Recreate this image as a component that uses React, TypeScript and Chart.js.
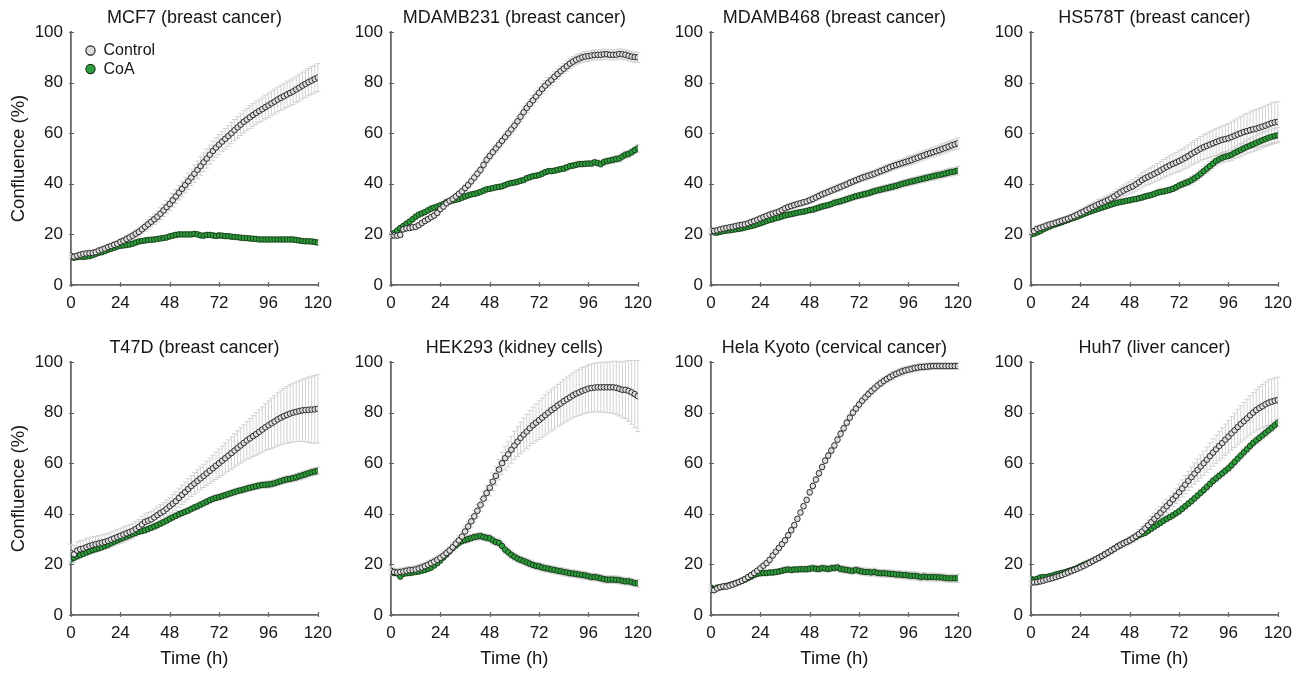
import React, { useEffect, useRef } from "react";
import { Chart, registerables } from "chart.js";
Chart.register(...registerables);

const TIME_H = [
  0, 1.5, 3, 4.5, 6, 7.5, 9, 10.5,
  12, 13.5, 15, 16.5, 18, 19.5, 21, 22.5,
  24, 25.5, 27, 28.5, 30, 31.5, 33, 34.5,
  36, 37.5, 39, 40.5, 42, 43.5, 45, 46.5,
  48, 49.5, 51, 52.5, 54, 55.5, 57, 58.5,
  60, 61.5, 63, 64.5, 66, 67.5, 69, 70.5,
  72, 73.5, 75, 76.5, 78, 79.5, 81, 82.5,
  84, 85.5, 87, 88.5, 90, 91.5, 93, 94.5,
  96, 97.5, 99, 100.5, 102, 103.5, 105, 106.5,
  108, 109.5, 111, 112.5, 114, 115.5, 117, 118.5,
  120,
];
const X_TICKS = [0, 24, 48, 72, 96, 120];
const Y_TICKS = [0, 20, 40, 60, 80, 100];
const SERIES_NAMES = ["Control", "CoA"];
const PANEL_TITLES = [
  "MCF7 (breast cancer)",
  "MDAMB231 (breast cancer)",
  "MDAMB468 (breast cancer)",
  "HS578T (breast cancer)",
  "T47D (breast cancer)",
  "HEK293 (kidney cells)",
  "Hela Kyoto (cervical cancer)",
  "Huh7 (liver cancer)",
];

// ---------- MCF7 ----------
const MCF7_CTRL = [
  11.5, 11.2, 11.6, 12.0, 12.3, 12.5, 12.6, 12.7,
  13.0, 13.6, 14.0, 14.4, 15.0, 15.4, 15.9, 16.3,
  17.0, 17.5, 18.2, 18.8, 19.5, 20.3, 21.0, 22.0,
  23.0, 24.0, 25.0, 26.0, 27.0, 28.2, 29.5, 30.8,
  32.0, 33.5, 35.0, 36.5, 38.0, 39.5, 41.0, 42.5,
  44.0, 45.5, 47.0, 48.5, 50.0, 51.5, 53.0, 54.3,
  55.5, 56.7, 57.8, 58.9, 60.0, 61.2, 62.3, 63.4,
  64.5, 65.4, 66.3, 67.2, 68.0, 68.8, 69.5, 70.3,
  71.0, 71.8, 72.5, 73.3, 74.0, 74.6, 75.3, 75.9,
  76.5, 77.3, 78.0, 78.8, 79.5, 80.2, 80.8, 81.4,
  82.0,
];
const MCF7_COA = [
  11.0, 10.8, 11.0, 11.2, 11.1, 11.3, 11.4, 11.8,
  12.3, 12.7, 13.0, 13.4, 13.9, 14.3, 14.7, 15.2,
  15.5, 15.6, 15.8, 16.0, 16.3, 16.8, 17.2, 17.4,
  17.6, 17.8, 17.9, 18.0, 18.2, 18.4, 18.6, 18.8,
  19.2, 19.5, 19.8, 20.0, 20.0, 20.0, 20.0, 20.0,
  20.2, 20.0, 19.6, 19.5, 19.8, 19.8, 19.6, 19.4,
  19.6, 19.5, 19.3, 19.3, 19.1, 19.0, 18.9, 18.7,
  18.6, 18.5, 18.4, 18.3, 18.2, 18.0, 18.0, 18.0,
  18.0, 18.0, 18.0, 18.0, 18.0, 18.0, 18.0, 18.0,
  18.0, 17.8, 17.6, 17.4, 17.3, 17.3, 17.2, 17.0,
  16.8,
];
const MCF7_CTRL_SD = [
  0.8, 0.8, 0.8, 0.8, 0.8, 0.9, 0.9, 0.9,
  1.0, 1.0, 1.0, 1.1, 1.1, 1.1, 1.2, 1.2,
  1.2, 1.3, 1.3, 1.4, 1.4, 1.5, 1.6, 1.7,
  1.8, 1.9, 2.0, 2.1, 2.2, 2.3, 2.4, 2.5,
  2.6, 2.7, 2.8, 2.9, 3.0, 3.1, 3.2, 3.3,
  3.4, 3.5, 3.6, 3.7, 3.8, 3.8, 3.9, 3.9,
  4.0, 4.0, 4.1, 4.1, 4.2, 4.2, 4.3, 4.3,
  4.4, 4.4, 4.5, 4.5, 4.6, 4.6, 4.7, 4.7,
  4.8, 4.8, 4.9, 4.9, 5.0, 5.0, 5.1, 5.1,
  5.2, 5.2, 5.3, 5.3, 5.4, 5.4, 5.5, 5.5,
  5.5,
];
const MCF7_COA_SD = [
  0.6, 0.6, 0.6, 0.6, 0.6, 0.6, 0.6, 0.6,
  0.6, 0.6, 0.6, 0.6, 0.6, 0.6, 0.6, 0.6,
  0.6, 0.6, 0.6, 0.6, 0.6, 0.6, 0.6, 0.6,
  0.7, 0.7, 0.7, 0.7, 0.7, 0.7, 0.7, 0.7,
  0.7, 0.7, 0.7, 0.7, 0.7, 0.7, 0.7, 0.7,
  0.8, 0.8, 0.8, 0.8, 0.8, 0.8, 0.8, 0.8,
  0.8, 0.8, 0.8, 0.8, 0.8, 0.8, 0.8, 0.8,
  0.8, 0.8, 0.8, 0.8, 0.8, 0.8, 0.8, 0.8,
  0.9, 0.9, 0.9, 0.9, 0.9, 0.9, 0.9, 0.9,
  1.0, 1.0, 1.0, 1.0, 1.0, 1.0, 1.0, 1.0,
  1.0,
];

// ---------- MDAMB231 ----------
const MDAMB231_CTRL = [
  19.5, 19.6, 19.5, 19.8, 22.0, 22.4, 22.5, 22.8,
  23.0, 23.6, 24.5, 25.3, 26.0, 26.8, 27.5, 28.5,
  30.0, 31.0, 32.3, 33.3, 34.0, 35.0, 36.0, 37.0,
  38.3, 39.5, 41.0, 42.5, 44.0, 45.5, 47.5, 49.5,
  51.0, 52.5, 54.0, 55.5, 57.0, 58.5, 60.0, 61.5,
  63.0, 64.7, 66.5, 68.3, 70.0, 71.5, 73.0, 74.5,
  76.0, 77.5, 78.8, 80.0, 81.0, 82.3, 83.4, 84.5,
  85.5, 86.5, 87.5, 88.3, 89.0, 89.5, 90.0, 90.3,
  90.5, 90.7, 90.9, 91.0, 91.0, 91.2, 91.2, 91.0,
  91.0, 91.0, 91.3, 91.2, 91.0, 90.6, 90.3, 90.1,
  90.0,
];
const MDAMB231_COA = [
  20.0, 20.5, 21.5, 22.5, 23.3, 24.2, 25.0, 26.0,
  27.0, 27.8, 28.3, 28.8, 29.5, 30.2, 30.6, 31.0,
  31.5, 32.0, 32.8, 33.0, 33.4, 33.7, 34.0, 34.5,
  35.0, 35.4, 35.8, 36.0, 36.3, 36.8, 37.3, 37.8,
  38.0, 38.3, 38.6, 38.8, 39.0, 39.5, 40.0, 40.3,
  40.5, 40.8, 41.2, 41.5, 42.2, 42.6, 43.0, 43.2,
  43.5, 44.0, 44.6, 45.0, 45.0, 45.2, 45.5, 45.8,
  46.0, 46.5, 47.0, 47.2, 47.5, 47.8, 47.8, 47.9,
  48.0, 48.0, 48.5, 48.2, 47.8, 48.6, 49.0, 49.2,
  49.5, 49.8, 50.0, 50.8, 51.5, 51.8, 52.5, 53.3,
  54.0,
];
const MDAMB231_CTRL_SD = [
  0.8, 0.8, 0.8, 0.8, 0.8, 0.8, 0.8, 0.8,
  0.9, 0.9, 0.9, 0.9, 1.0, 1.0, 1.0, 1.0,
  1.0, 1.1, 1.1, 1.1, 1.2, 1.2, 1.2, 1.2,
  1.3, 1.3, 1.3, 1.4, 1.4, 1.4, 1.5, 1.5,
  1.5, 1.5, 1.6, 1.6, 1.6, 1.6, 1.7, 1.7,
  1.7, 1.7, 1.8, 1.8, 1.8, 1.8, 1.9, 1.9,
  1.9, 1.9, 2.0, 2.0, 2.0, 2.0, 2.0, 2.0,
  2.0, 2.0, 2.0, 2.0, 2.0, 2.0, 2.0, 2.0,
  2.0, 2.0, 2.0, 2.0, 2.0, 2.0, 2.0, 2.0,
  2.0, 2.0, 2.0, 2.0, 2.0, 2.0, 2.0, 2.0,
  2.0,
];
const MDAMB231_COA_SD = [
  0.8, 0.8, 0.8, 0.8, 0.8, 0.8, 0.8, 0.8,
  0.8, 0.8, 0.8, 0.8, 0.8, 0.8, 0.8, 0.8,
  0.8, 0.8, 0.8, 0.8, 0.8, 0.8, 0.8, 0.8,
  0.9, 0.9, 0.9, 0.9, 0.9, 0.9, 0.9, 0.9,
  0.9, 0.9, 0.9, 0.9, 0.9, 0.9, 0.9, 0.9,
  1.0, 1.0, 1.0, 1.0, 1.0, 1.0, 1.0, 1.0,
  1.0, 1.0, 1.0, 1.0, 1.0, 1.0, 1.0, 1.0,
  1.1, 1.1, 1.1, 1.1, 1.1, 1.1, 1.1, 1.1,
  1.2, 1.2, 1.2, 1.2, 1.2, 1.2, 1.2, 1.2,
  1.4, 1.4, 1.4, 1.4, 1.4, 1.4, 1.4, 1.4,
  1.5,
];

// ---------- MDAMB468 ----------
const MDAMB468_CTRL = [
  21.5, 21.4, 21.6, 22.0, 22.3, 22.5, 22.8, 23.0,
  23.3, 23.6, 23.8, 24.0, 24.4, 24.9, 25.3, 25.8,
  26.3, 26.8, 27.3, 27.8, 28.2, 28.6, 29.0, 29.6,
  30.3, 30.8, 31.2, 31.6, 32.0, 32.3, 32.7, 33.0,
  33.5, 34.0, 34.6, 35.2, 35.8, 36.3, 36.8, 37.3,
  37.8, 38.3, 38.8, 39.3, 39.8, 40.4, 40.9, 41.4,
  41.9, 42.4, 42.8, 43.2, 43.6, 44.0, 44.5, 45.0,
  45.5, 46.0, 46.5, 47.0, 47.4, 47.8, 48.2, 48.6,
  49.0, 49.4, 49.9, 50.3, 50.8, 51.2, 51.7, 52.1,
  52.5, 52.9, 53.3, 53.8, 54.2, 54.7, 55.2, 55.6,
  56.0,
];
const MDAMB468_COA = [
  21.0, 20.8, 20.7, 21.0, 21.3, 21.5, 21.6, 21.8,
  22.0, 22.2, 22.4, 22.7, 23.0, 23.3, 23.6, 24.0,
  24.4, 24.8, 25.3, 25.7, 26.0, 26.4, 26.7, 27.1,
  27.5, 27.8, 28.0, 28.3, 28.6, 28.8, 29.0, 29.3,
  29.6, 29.8, 30.2, 30.6, 31.0, 31.3, 31.6, 32.0,
  32.5, 32.8, 33.1, 33.5, 33.9, 34.3, 34.7, 35.1,
  35.4, 35.7, 36.0, 36.3, 36.7, 37.1, 37.4, 37.7,
  38.0, 38.3, 38.6, 38.9, 39.2, 39.6, 40.0, 40.3,
  40.6, 40.9, 41.2, 41.5, 41.8, 42.1, 42.4, 42.7,
  43.0, 43.3, 43.5, 43.8, 44.1, 44.4, 44.7, 44.9,
  45.2,
];
const MDAMB468_CTRL_SD = [
  0.8, 0.8, 0.8, 0.8, 0.8, 0.8, 0.8, 0.8,
  0.9, 0.9, 0.9, 0.9, 0.9, 0.9, 0.9, 0.9,
  1.0, 1.0, 1.0, 1.0, 1.0, 1.0, 1.0, 1.0,
  1.1, 1.1, 1.1, 1.1, 1.1, 1.1, 1.1, 1.1,
  1.2, 1.2, 1.2, 1.2, 1.2, 1.2, 1.2, 1.2,
  1.3, 1.3, 1.3, 1.3, 1.3, 1.3, 1.3, 1.3,
  1.4, 1.4, 1.4, 1.4, 1.4, 1.4, 1.4, 1.4,
  1.6, 1.6, 1.6, 1.6, 1.6, 1.6, 1.6, 1.6,
  1.8, 1.8, 1.8, 1.8, 1.8, 1.8, 1.8, 1.8,
  2.0, 2.0, 2.0, 2.0, 2.0, 2.0, 2.0, 2.0,
  2.2,
];
const MDAMB468_COA_SD = [
  0.8, 0.8, 0.8, 0.8, 0.8, 0.8, 0.8, 0.8,
  0.8, 0.8, 0.8, 0.8, 0.8, 0.8, 0.8, 0.8,
  0.9, 0.9, 0.9, 0.9, 0.9, 0.9, 0.9, 0.9,
  1.0, 1.0, 1.0, 1.0, 1.0, 1.0, 1.0, 1.0,
  1.1, 1.1, 1.1, 1.1, 1.1, 1.1, 1.1, 1.1,
  1.2, 1.2, 1.2, 1.2, 1.2, 1.2, 1.2, 1.2,
  1.3, 1.3, 1.3, 1.3, 1.3, 1.3, 1.3, 1.3,
  1.4, 1.4, 1.4, 1.4, 1.4, 1.4, 1.4, 1.4,
  1.5, 1.5, 1.5, 1.5, 1.5, 1.5, 1.5, 1.5,
  1.6, 1.6, 1.6, 1.6, 1.6, 1.6, 1.6, 1.6,
  1.7,
];

// ---------- HS578T ----------
const HS578T_CTRL = [
  21.0, 21.3, 22.2, 22.6, 23.0, 23.5, 23.9, 24.2,
  24.6, 25.0, 25.4, 25.8, 26.2, 26.7, 27.2, 27.8,
  28.4, 29.0, 29.6, 30.2, 30.8, 31.4, 32.0, 32.5,
  33.0, 33.6, 34.2, 35.0, 35.8, 36.6, 37.3, 37.9,
  38.5, 39.0, 39.8, 40.6, 41.5, 42.2, 42.8, 43.4,
  44.0, 44.6, 45.3, 46.0, 46.7, 47.3, 47.9, 48.4,
  49.0, 49.6, 50.3, 51.0, 51.8, 52.5, 53.2, 53.9,
  54.5, 55.0, 55.5, 56.0, 56.5, 57.0, 57.4, 57.7,
  58.0, 58.5, 59.0, 59.5, 60.0, 60.5, 60.8, 61.2,
  61.5, 61.8, 62.2, 62.6, 63.0, 63.5, 64.0, 64.3,
  64.5,
];
const HS578T_COA = [
  20.0, 20.3, 20.8, 21.3, 22.0, 22.6, 23.1, 23.6,
  24.0, 24.4, 24.8, 25.3, 25.7, 26.2, 26.6, 27.0,
  27.5, 28.0, 28.5, 29.0, 29.4, 29.8, 30.2, 30.6,
  31.0, 31.4, 31.8, 32.2, 32.5, 32.8, 33.0, 33.3,
  33.5, 33.8, 34.0, 34.3, 34.6, 35.0, 35.3, 35.6,
  36.0, 36.5, 36.8, 37.0, 37.3, 37.6, 38.0, 38.6,
  39.3, 39.8, 40.3, 40.8, 41.4, 42.2, 43.0, 44.0,
  45.0, 46.0, 47.0, 48.0, 49.0, 49.7, 50.3, 50.7,
  51.0, 51.5, 52.2, 52.8, 53.4, 54.0, 54.6, 55.1,
  55.6, 56.2, 56.7, 57.2, 57.7, 58.2, 58.6, 58.9,
  59.2,
];
const HS578T_CTRL_SD = [
  1.0, 1.0, 1.0, 1.0, 1.1, 1.1, 1.1, 1.1,
  1.2, 1.2, 1.2, 1.3, 1.3, 1.3, 1.4, 1.4,
  1.5, 1.5, 1.6, 1.6, 1.7, 1.7, 1.8, 1.8,
  1.9, 1.9, 2.0, 2.0, 2.1, 2.2, 2.3, 2.4,
  2.5, 2.6, 2.7, 2.8, 2.9, 3.0, 3.1, 3.2,
  3.3, 3.4, 3.5, 3.6, 3.7, 3.8, 3.9, 4.0,
  4.1, 4.2, 4.3, 4.4, 4.5, 4.6, 4.7, 4.8,
  4.9, 5.0, 5.1, 5.2, 5.3, 5.4, 5.5, 5.6,
  5.8, 6.0, 6.2, 6.4, 6.6, 6.8, 7.0, 7.2,
  7.4, 7.5, 7.6, 7.7, 7.8, 7.9, 8.0, 8.0,
  8.0,
];
const HS578T_COA_SD = [
  0.8, 0.8, 0.8, 0.8, 0.8, 0.8, 0.8, 0.8,
  0.8, 0.8, 0.8, 0.8, 0.8, 0.8, 0.8, 0.8,
  0.9, 0.9, 0.9, 0.9, 0.9, 0.9, 0.9, 0.9,
  0.9, 0.9, 0.9, 0.9, 0.9, 0.9, 0.9, 0.9,
  1.0, 1.0, 1.0, 1.0, 1.0, 1.0, 1.0, 1.0,
  1.1, 1.1, 1.1, 1.1, 1.1, 1.1, 1.1, 1.1,
  1.3, 1.3, 1.4, 1.4, 1.5, 1.5, 1.6, 1.6,
  1.7, 1.7, 1.8, 1.8, 1.9, 1.9, 2.0, 2.0,
  2.1, 2.2, 2.3, 2.4, 2.5, 2.6, 2.7, 2.8,
  2.9, 3.0, 3.0, 3.0, 3.0, 3.0, 3.0, 3.0,
  3.0,
];

// ---------- T47D ----------
const T47D_CTRL = [
  24.5, 24.0, 25.5, 26.0, 26.3, 26.8, 27.3, 27.7,
  28.0, 28.3, 28.6, 28.9, 29.3, 29.8, 30.3, 30.8,
  31.3, 31.8, 32.3, 32.8, 33.3, 34.0, 34.8, 35.8,
  36.8, 37.3, 37.8, 38.6, 39.5, 40.3, 41.0, 42.0,
  43.0, 44.0, 45.0, 46.3, 47.5, 48.6, 49.8, 51.0,
  52.0, 53.0, 54.0, 55.0, 56.0, 57.0, 58.0, 59.0,
  60.0, 61.0, 62.0, 63.0, 64.0, 65.0, 66.0, 67.0,
  68.0, 69.0, 69.8, 70.7, 71.5, 72.4, 73.3, 74.2,
  75.0, 75.8, 76.5, 77.3, 78.0, 78.6, 79.1, 79.6,
  80.0, 80.3, 80.6, 80.9, 81.0, 81.1, 81.2, 81.3,
  81.5,
];
const T47D_COA = [
  22.0, 22.6, 23.2, 23.7, 24.2, 24.7, 25.2, 25.6,
  26.0, 26.4, 26.8, 27.3, 27.8, 28.4, 29.0, 29.5,
  30.0, 30.5, 31.0, 31.5, 32.0, 32.5, 32.9, 33.2,
  33.5, 34.0, 34.5, 35.0, 35.5, 36.1, 36.7, 37.3,
  38.0, 38.6, 39.2, 39.8, 40.3, 40.8, 41.3, 41.9,
  42.5, 43.0, 43.6, 44.2, 44.8, 45.4, 45.9, 46.3,
  46.6, 47.0, 47.4, 47.8, 48.2, 48.6, 49.0, 49.3,
  49.6, 50.0, 50.3, 50.6, 50.9, 51.2, 51.4, 51.5,
  51.6, 51.8, 52.1, 52.5, 52.9, 53.3, 53.6, 53.8,
  54.1, 54.4, 54.8, 55.2, 55.6, 56.0, 56.4, 56.7,
  57.0,
];
const T47D_CTRL_SD = [
  3.5, 3.5, 3.4, 3.4, 3.3, 3.3, 3.2, 3.2,
  3.1, 3.1, 3.0, 3.0, 3.0, 3.0, 3.0, 3.0,
  3.0, 3.0, 3.0, 3.0, 3.0, 3.0, 3.0, 3.1,
  3.1, 3.2, 3.2, 3.3, 3.3, 3.4, 3.4, 3.5,
  3.5, 3.6, 3.7, 3.8, 3.9, 4.0, 4.1, 4.2,
  4.3, 4.4, 4.5, 4.6, 4.8, 5.0, 5.2, 5.4,
  5.6, 5.8, 6.0, 6.2, 6.4, 6.6, 6.8, 7.0,
  7.2, 7.5, 7.8, 8.1, 8.4, 8.7, 9.0, 9.3,
  9.6, 9.9, 10.2, 10.5, 10.8, 11.0, 11.2, 11.4,
  11.6, 11.8, 12.0, 12.3, 12.6, 12.9, 13.2, 13.4,
  13.5,
];
const T47D_COA_SD = [
  1.0, 1.0, 1.0, 1.0, 1.0, 1.0, 1.0, 1.0,
  1.0, 1.0, 1.0, 1.0, 1.0, 1.0, 1.0, 1.0,
  1.0, 1.0, 1.0, 1.0, 1.0, 1.0, 1.0, 1.0,
  1.1, 1.1, 1.1, 1.1, 1.1, 1.1, 1.1, 1.1,
  1.1, 1.1, 1.1, 1.1, 1.1, 1.1, 1.1, 1.1,
  1.2, 1.2, 1.2, 1.2, 1.2, 1.2, 1.2, 1.2,
  1.2, 1.2, 1.2, 1.2, 1.2, 1.2, 1.2, 1.2,
  1.3, 1.3, 1.3, 1.3, 1.3, 1.3, 1.3, 1.3,
  1.4, 1.4, 1.4, 1.4, 1.4, 1.4, 1.4, 1.4,
  1.5, 1.5, 1.5, 1.5, 1.5, 1.5, 1.5, 1.5,
  1.5,
];

// ---------- HEK293 ----------
const HEK293_CTRL = [
  17.5, 17.0, 16.8, 17.0, 17.2, 17.5, 17.7, 17.8,
  18.0, 18.4, 18.8, 19.3, 19.9, 20.5, 21.1, 21.8,
  22.6, 23.5, 24.5, 25.5, 26.8, 28.2, 29.5, 31.0,
  33.0, 35.0, 37.0, 39.0, 41.2, 43.5, 46.0, 48.2,
  50.3, 52.7, 55.0, 57.5, 60.0, 62.0, 63.5, 65.3,
  67.0, 68.5, 70.0, 71.3, 72.5, 73.8, 75.0, 76.0,
  77.0, 78.0, 79.0, 80.0, 81.0, 81.8, 82.8, 83.6,
  84.5, 85.3, 86.0, 86.8, 87.5, 88.0, 88.6, 89.0,
  89.5, 89.7, 89.9, 90.0, 90.0, 90.0, 90.0, 90.0,
  90.0, 89.8, 89.4, 89.0, 89.0, 88.6, 88.0, 87.3,
  86.5,
];
const HEK293_COA = [
  17.0, 16.6, 16.5, 15.2, 16.3, 16.5, 16.6, 16.8,
  17.0, 17.2, 17.5, 17.8, 18.3, 18.8, 19.6, 20.5,
  21.6, 22.8, 24.0, 25.3, 26.5, 27.5, 28.5, 29.2,
  29.6, 30.0, 30.4, 30.8, 31.0, 31.2, 30.8, 30.5,
  30.3, 29.5, 28.8, 28.5, 27.3, 25.8, 24.8, 23.8,
  23.0, 22.3, 21.8, 21.3, 20.8, 20.3, 19.8, 19.4,
  19.2, 18.8, 18.5, 18.3, 18.0, 17.8, 17.5, 17.3,
  17.0, 16.8, 16.5, 16.4, 16.2, 16.0, 15.8, 15.6,
  15.3, 15.0, 15.0, 14.8, 14.5, 14.2, 14.0, 14.0,
  14.0, 13.9, 13.8, 13.5, 13.3, 13.3, 13.0, 12.6,
  12.5,
];
const HEK293_CTRL_SD = [
  1.5, 1.5, 1.5, 1.5, 1.5, 1.5, 1.5, 1.5,
  1.5, 1.5, 1.5, 1.5, 1.5, 1.5, 1.5, 1.5,
  1.5, 1.5, 1.6, 1.6, 1.7, 1.7, 1.8, 1.8,
  2.0, 2.0, 2.2, 2.3, 2.5, 2.6, 2.8, 3.0,
  3.2, 3.5, 3.8, 4.1, 4.4, 4.7, 5.0, 5.3,
  5.6, 5.9, 6.2, 6.5, 6.8, 7.0, 7.2, 7.4,
  7.6, 7.8, 8.0, 8.1, 8.2, 8.3, 8.4, 8.5,
  8.6, 8.7, 8.8, 8.9, 9.0, 9.1, 9.2, 9.3,
  9.4, 9.5, 9.6, 9.7, 9.8, 9.9, 10.0, 10.1,
  10.3, 10.5, 10.7, 11.0, 11.4, 12.0, 12.6, 13.3,
  14.0,
];
const HEK293_COA_SD = [
  1.0, 1.0, 1.0, 1.0, 1.0, 1.0, 1.0, 1.0,
  1.0, 1.0, 1.0, 1.0, 1.0, 1.0, 1.0, 1.0,
  1.2, 1.2, 1.2, 1.2, 1.2, 1.2, 1.2, 1.2,
  1.4, 1.4, 1.4, 1.4, 1.4, 1.4, 1.4, 1.4,
  1.5, 1.5, 1.5, 1.5, 1.5, 1.5, 1.5, 1.5,
  1.5, 1.5, 1.5, 1.5, 1.5, 1.5, 1.5, 1.5,
  1.5, 1.5, 1.5, 1.5, 1.5, 1.5, 1.5, 1.5,
  1.5, 1.5, 1.5, 1.5, 1.5, 1.5, 1.5, 1.5,
  1.5, 1.5, 1.5, 1.5, 1.5, 1.5, 1.5, 1.5,
  1.5, 1.5, 1.5, 1.5, 1.5, 1.5, 1.5, 1.5,
  1.5,
];

// ---------- Hela Kyoto ----------
const HELA_CTRL = [
  10.0, 9.8, 10.5, 11.0, 11.3, 11.2, 11.6, 12.0,
  12.5, 13.0, 13.5, 14.2, 15.0, 15.8, 16.6, 17.5,
  18.5, 19.5, 20.5, 21.8, 23.5, 25.0, 26.5, 28.0,
  29.5, 31.5, 33.5, 35.5, 38.0, 40.5, 43.0, 45.5,
  48.5, 51.0, 53.5, 56.0, 58.5, 61.0, 63.0, 65.0,
  67.0, 69.3, 71.6, 73.8, 76.0, 78.0, 80.0, 81.6,
  83.2, 84.7, 86.0, 87.3, 88.5, 89.6, 90.7, 91.6,
  92.5, 93.3, 94.0, 94.7, 95.3, 95.8, 96.3, 96.7,
  97.0, 97.3, 97.6, 97.8, 98.0, 98.1, 98.2, 98.3,
  98.4, 98.4, 98.4, 98.4, 98.4, 98.4, 98.4, 98.4,
  98.4,
];
const HELA_COA = [
  10.8, 10.2, 10.8, 11.0, 11.2, 11.5, 11.8, 12.2,
  12.6, 13.0, 13.5, 14.0, 14.6, 15.2, 15.8, 16.3,
  16.5, 16.6, 16.6, 16.8, 16.8, 17.0, 17.2, 17.5,
  17.8, 18.0, 17.8, 18.0, 18.0, 18.1, 18.1, 18.1,
  18.3, 18.5, 18.3, 18.2, 18.5, 18.4, 18.2, 18.5,
  18.6, 18.8, 18.2, 18.0, 17.8, 17.6, 17.5, 17.8,
  17.5, 17.2, 17.0, 17.0, 16.8, 17.0, 16.6, 16.5,
  16.5, 16.4, 16.3, 16.2, 16.0, 16.0, 15.8, 15.8,
  15.6, 15.5, 15.5, 15.3, 15.0, 15.2, 15.0, 15.0,
  15.0, 14.9, 14.9, 14.8, 14.6, 14.5, 14.5, 14.5,
  14.5,
];
const HELA_CTRL_SD = [
  0.8, 0.8, 0.8, 0.8, 0.8, 0.8, 0.8, 0.8,
  0.8, 0.8, 0.8, 0.8, 0.8, 0.8, 0.8, 0.8,
  0.9, 0.9, 0.9, 0.9, 0.9, 0.9, 0.9, 0.9,
  1.0, 1.0, 1.0, 1.0, 1.0, 1.0, 1.0, 1.0,
  1.2, 1.2, 1.2, 1.2, 1.2, 1.2, 1.2, 1.2,
  1.3, 1.3, 1.3, 1.3, 1.3, 1.3, 1.3, 1.3,
  1.4, 1.4, 1.4, 1.4, 1.4, 1.4, 1.4, 1.4,
  1.5, 1.5, 1.5, 1.5, 1.5, 1.5, 1.5, 1.5,
  1.4, 1.4, 1.4, 1.4, 1.4, 1.4, 1.4, 1.4,
  1.2, 1.2, 1.2, 1.2, 1.2, 1.2, 1.2, 1.2,
  1.2,
];
const HELA_COA_SD = [
  1.0, 1.0, 1.0, 1.0, 1.0, 1.0, 1.0, 1.0,
  1.0, 1.0, 1.0, 1.0, 1.0, 1.0, 1.0, 1.0,
  1.1, 1.1, 1.1, 1.1, 1.1, 1.1, 1.1, 1.1,
  1.2, 1.2, 1.2, 1.2, 1.2, 1.2, 1.2, 1.2,
  1.3, 1.3, 1.3, 1.3, 1.3, 1.3, 1.3, 1.3,
  1.4, 1.4, 1.4, 1.4, 1.4, 1.4, 1.4, 1.4,
  1.5, 1.5, 1.5, 1.5, 1.5, 1.5, 1.5, 1.5,
  1.5, 1.5, 1.5, 1.5, 1.5, 1.5, 1.5, 1.5,
  1.6, 1.6, 1.6, 1.6, 1.6, 1.6, 1.6, 1.6,
  1.6, 1.6, 1.6, 1.6, 1.6, 1.6, 1.6, 1.6,
  1.6,
];

// ---------- Huh7 ----------
const HUH7_CTRL = [
  12.8, 12.9, 13.0, 13.3, 13.6, 14.0, 14.3, 14.6,
  15.0, 15.4, 15.8, 16.3, 16.8, 17.3, 17.8, 18.3,
  18.8, 19.4, 20.0, 20.6, 21.3, 22.0, 22.6, 23.3,
  24.0, 24.7, 25.5, 26.2, 27.0, 27.7, 28.3, 28.9,
  29.5, 30.3, 31.1, 32.0, 33.0, 34.2, 35.5, 36.7,
  38.0, 39.2, 40.4, 41.7, 43.0, 44.3, 45.7, 47.1,
  48.5, 50.0, 51.5, 53.0, 54.5, 55.9, 57.3, 58.7,
  60.0, 61.4, 62.8, 64.2, 65.5, 66.8, 68.0, 69.3,
  70.5, 71.8, 73.0, 74.3, 75.5, 76.6, 77.7, 78.9,
  80.0, 81.0, 81.8, 82.5, 83.3, 83.9, 84.3, 84.7,
  85.0,
];
const HUH7_COA = [
  14.2, 13.9, 14.3, 14.8, 15.0, 15.0, 15.3, 15.6,
  16.0, 16.3, 16.6, 16.9, 17.3, 17.7, 18.1, 18.6,
  19.2, 19.8, 20.3, 20.8, 21.4, 22.0, 22.6, 23.3,
  24.0, 24.7, 25.4, 26.2, 27.0, 27.6, 28.3, 28.9,
  29.5, 30.2, 30.9, 31.6, 32.0, 32.5, 33.3, 34.1,
  34.9, 35.7, 36.5, 37.3, 38.0, 38.7, 39.4, 40.2,
  41.0, 42.0, 43.0, 44.0, 45.0, 46.1, 47.2, 48.3,
  49.4, 50.6, 51.8, 53.0, 54.0, 55.0, 56.0, 57.0,
  58.0, 59.2, 60.5, 61.8, 63.0, 64.3, 65.5, 66.8,
  68.0, 69.0, 70.0, 71.0, 72.0, 73.0, 74.0, 75.0,
  76.0,
];
const HUH7_CTRL_SD = [
  1.0, 1.0, 1.0, 1.0, 1.0, 1.0, 1.0, 1.0,
  1.0, 1.0, 1.0, 1.0, 1.0, 1.0, 1.0, 1.0,
  1.0, 1.0, 1.0, 1.0, 1.0, 1.0, 1.0, 1.0,
  1.1, 1.1, 1.2, 1.2, 1.3, 1.3, 1.4, 1.4,
  1.5, 1.6, 1.7, 1.8, 1.9, 2.0, 2.1, 2.2,
  2.3, 2.4, 2.5, 2.6, 2.7, 2.8, 2.9, 3.0,
  3.2, 3.4, 3.6, 3.8, 4.0, 4.2, 4.4, 4.6,
  4.8, 5.0, 5.2, 5.4, 5.6, 5.8, 6.0, 6.2,
  6.4, 6.6, 6.8, 7.0, 7.2, 7.4, 7.6, 7.8,
  8.0, 8.2, 8.4, 8.6, 8.8, 9.0, 9.0, 9.0,
  9.0,
];
const HUH7_COA_SD = [
  1.0, 1.0, 1.0, 1.0, 1.0, 1.0, 1.0, 1.0,
  1.0, 1.0, 1.0, 1.0, 1.0, 1.0, 1.0, 1.0,
  1.0, 1.0, 1.0, 1.0, 1.0, 1.0, 1.0, 1.0,
  1.0, 1.0, 1.0, 1.0, 1.0, 1.0, 1.0, 1.0,
  1.1, 1.1, 1.1, 1.1, 1.1, 1.1, 1.1, 1.1,
  1.1, 1.1, 1.1, 1.1, 1.1, 1.1, 1.1, 1.1,
  1.2, 1.2, 1.2, 1.2, 1.2, 1.2, 1.2, 1.2,
  1.3, 1.3, 1.3, 1.3, 1.3, 1.3, 1.3, 1.3,
  1.4, 1.4, 1.4, 1.4, 1.4, 1.4, 1.4, 1.4,
  1.5, 1.5, 1.5, 1.5, 1.5, 1.5, 1.5, 1.5,
  1.5,
];

const PANEL_SERIES = [
  [MCF7_CTRL, MCF7_COA, MCF7_CTRL_SD, MCF7_COA_SD],
  [MDAMB231_CTRL, MDAMB231_COA, MDAMB231_CTRL_SD, MDAMB231_COA_SD],
  [MDAMB468_CTRL, MDAMB468_COA, MDAMB468_CTRL_SD, MDAMB468_COA_SD],
  [HS578T_CTRL, HS578T_COA, HS578T_CTRL_SD, HS578T_COA_SD],
  [T47D_CTRL, T47D_COA, T47D_CTRL_SD, T47D_COA_SD],
  [HEK293_CTRL, HEK293_COA, HEK293_CTRL_SD, HEK293_COA_SD],
  [HELA_CTRL, HELA_COA, HELA_CTRL_SD, HELA_COA_SD],
  [HUH7_CTRL, HUH7_COA, HUH7_CTRL_SD, HUH7_COA_SD],
];

const FONT = "'Liberation Sans', Arial, Helvetica, sans-serif";
const TEXT = "#161616";
const AXIS = "#666666";
const CTRL_FILL = "#dedede";
const CTRL_EDGE = "#1a1a1a";
const COA_FILL = "#2e9f3e";
const COA_EDGE = "#123312";
const ERR = "#d2d2d2";

const CANVAS_W = 340;
const CANVAS_H = 340;
const AREA_LEFT = 71;
const AREA_TOP = 32;
const AREA_W = 253;
const AREA_H = 253;

function Panel({ idx }: { idx: number }) {
  const ref = useRef<HTMLCanvasElement | null>(null);
  const col = idx % 4;
  const row = Math.floor(idx / 4);
  useEffect(() => {
    const [ctrl, coa, ctrlSd, coaSd] = PANEL_SERIES[idx];
    const title = PANEL_TITLES[idx];

    const errPlugin = {
      id: "errbars",
      beforeDatasetsDraw(chart: any) {
        const ctx = chart.ctx;
        const xs = chart.scales.x;
        const ys = chart.scales.y;
        ctx.save();
        ctx.lineWidth = 1;
        chart.data.datasets.forEach((ds: any) => {
          const errs: number[] = ds.errs;
          ctx.strokeStyle = ds.errColor;
          ds.data.forEach((pt: any, i: number) => {
            const x = xs.getPixelForValue(pt.x);
            const yT = ys.getPixelForValue(pt.y + errs[i]);
            const yB = ys.getPixelForValue(pt.y - errs[i]);
            ctx.beginPath();
            ctx.moveTo(x, yT);
            ctx.lineTo(x, yB);
            ctx.moveTo(x - 2.5, yT);
            ctx.lineTo(x + 2.5, yT);
            ctx.moveTo(x - 2.5, yB);
            ctx.lineTo(x + 2.5, yB);
            ctx.stroke();
          });
        });
        ctx.restore();
      },
    };

    const decorPlugin = {
      id: "decor",
      afterDraw(chart: any) {
        const ctx = chart.ctx;
        const a = chart.chartArea;
        const xs = chart.scales.x;
        const ys = chart.scales.y;
        ctx.save();
        // inward ticks
        ctx.strokeStyle = AXIS;
        ctx.lineWidth = 1.2;
        ctx.beginPath();
        Y_TICKS.forEach((v) => {
          const y = Math.round(ys.getPixelForValue(v)) + 0.5;
          ctx.moveTo(a.left - 2, y);
          ctx.lineTo(a.left + 3, y);
        });
        X_TICKS.forEach((v) => {
          const x = Math.round(xs.getPixelForValue(v)) + 0.5;
          ctx.moveTo(x, a.bottom + 2);
          ctx.lineTo(x, a.bottom - 3);
        });
        ctx.stroke();
        // title
        ctx.fillStyle = TEXT;
        ctx.font = `18px ${FONT}`;
        ctx.textAlign = "center";
        ctx.textBaseline = "middle";
        ctx.fillText(title, (a.left + a.right) / 2, a.top - 14);
        // legend in first panel
        if (idx === 0) {
          const items = [
            { name: SERIES_NAMES[0], fill: CTRL_FILL, edge: CTRL_EDGE },
            { name: SERIES_NAMES[1], fill: COA_FILL, edge: COA_EDGE },
          ];
          items.forEach((it, k) => {
            const cx = a.left + 19.5;
            const cy = a.top + 18.5 + k * 18.5;
            ctx.beginPath();
            ctx.arc(cx, cy, 4.6, 0, Math.PI * 2);
            ctx.fillStyle = it.fill;
            ctx.fill();
            ctx.lineWidth = 1.1;
            ctx.strokeStyle = it.edge;
            ctx.stroke();
            ctx.fillStyle = TEXT;
            ctx.font = `16px ${FONT}`;
            ctx.textAlign = "left";
            ctx.textBaseline = "middle";
            ctx.fillText(it.name, cx + 13, cy + 0.5);
          });
        }
        ctx.restore();
      },
    };

    const chart = new Chart(ref.current as HTMLCanvasElement, {
      type: "scatter",
      data: {
        datasets: [
          {
            label: SERIES_NAMES[0],
            data: TIME_H.map((t, i) => ({ x: t, y: ctrl[i] })),
            backgroundColor: CTRL_FILL,
            borderColor: CTRL_EDGE,
            pointRadius: 2.8,
            pointBorderWidth: 0.9,
            errs: ctrlSd,
            errColor: ERR,
          } as any,
          {
            label: SERIES_NAMES[1],
            data: TIME_H.map((t, i) => ({ x: t, y: coa[i] })),
            backgroundColor: COA_FILL,
            borderColor: COA_EDGE,
            pointRadius: 2.8,
            pointBorderWidth: 0.9,
            errs: coaSd,
            errColor: ERR,
          } as any,
        ],
      },
      options: {
        responsive: false,
        animation: false,
        devicePixelRatio: 1,
        layout: {
          padding: {
            top: AREA_TOP,
            right: CANVAS_W - AREA_LEFT - AREA_W,
            bottom: 0,
            left: 0,
          },
        },
        plugins: {
          legend: { display: false },
          tooltip: { enabled: false },
          title: { display: false },
        },
        scales: {
          x: {
            type: "linear",
            min: 0,
            max: 120,
            afterBuildTicks: (s: any) => {
              s.ticks = X_TICKS.map((v) => ({ value: v }));
            },
            ticks: {
              color: TEXT,
              font: { family: FONT, size: 17 },
              padding: 8,
              maxRotation: 0,
            },
            grid: { display: false, drawTicks: false },
            border: { display: true, color: AXIS, width: 1.8 },
            title: {
              display: row === 1,
              text: "Time (h)",
              color: TEXT,
              font: { family: FONT, size: 18.5 },
              padding: { top: 0, bottom: 0 },
            },
            afterFit: (s: any) => {
              s.height = CANVAS_H - AREA_TOP - AREA_H;
            },
          },
          y: {
            type: "linear",
            min: 0,
            max: 100,
            afterBuildTicks: (s: any) => {
              s.ticks = Y_TICKS.map((v) => ({ value: v }));
            },
            ticks: {
              color: TEXT,
              font: { family: FONT, size: 17 },
              padding: 8,
            },
            grid: { display: false, drawTicks: false },
            border: { display: true, color: AXIS, width: 1.8 },
            title: {
              display: col === 0,
              text: "Confluence (%)",
              color: TEXT,
              font: { family: FONT, size: 18.5 },
              padding: { top: 8, bottom: 0 },
            },
            afterFit: (s: any) => {
              s.width = AREA_LEFT;
            },
          },
        },
      } as any,
      plugins: [errPlugin, decorPlugin],
    });
    return () => chart.destroy();
  }, [idx]);

  return (
    <canvas
      ref={ref}
      width={CANVAS_W}
      height={CANVAS_H}
      style={{
        position: "absolute",
        left: col * 320,
        top: row * 330,
        width: CANVAS_W,
        height: CANVAS_H,
      }}
    />
  );
}

export default function App() {
  return (
    <div
      style={{
        position: "absolute",
        left: 0,
        top: 0,
        width: 1313,
        height: 673,
        background: "#ffffff",
        overflow: "hidden",
      }}
    >
      {PANEL_TITLES.map((_, i) => (
        <Panel key={i} idx={i} />
      ))}
    </div>
  );
}
